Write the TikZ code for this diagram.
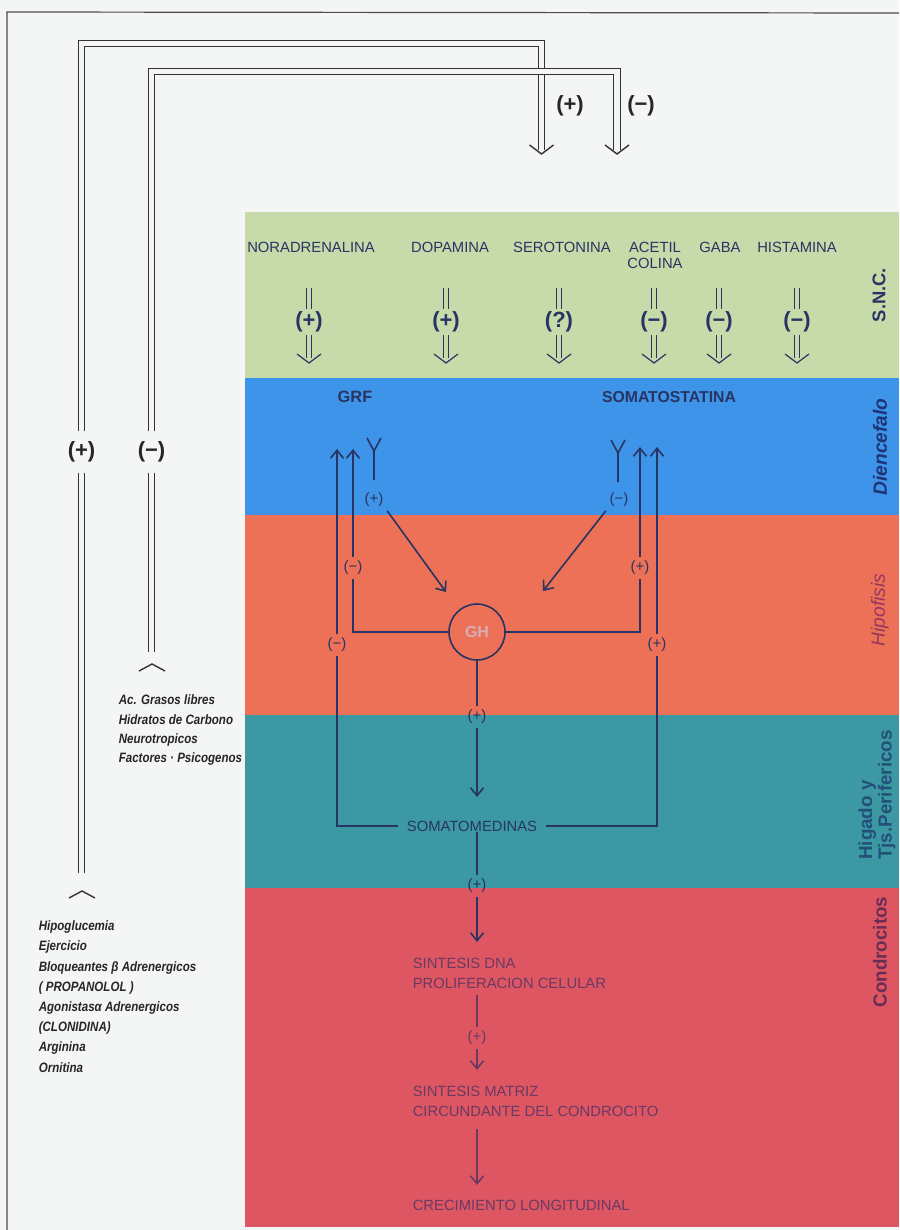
\documentclass[tikz,border=0pt]{standalone}
\usepackage{fontspec}
\setmainfont{Liberation Sans}
\newfontfamily\narrowfont[FakeStretch=0.85]{Liberation Sans}
\usetikzlibrary{arrows.meta}
\definecolor{paper}{RGB}{244,245,245}
\definecolor{sncgreen}{RGB}{199,218,170}
\definecolor{dienblue}{RGB}{62,148,232}
\definecolor{hiporange}{RGB}{236,113,86}
\definecolor{higteal}{RGB}{60,152,162}
\definecolor{condred}{RGB}{222,86,98}
\definecolor{ink}{RGB}{40,52,98}
\definecolor{inkred}{RGB}{105,58,100}
\definecolor{ghtext}{RGB}{218,172,182}
\begin{document}
\begin{tikzpicture}[x=.5pt,y=-.5pt,line width=.8pt,
  dbl/.style={draw=black!80,line width=.6pt,double=paper,double distance=2.6pt},
  sncdbl/.style={draw=ink,line width=.5pt,double=sncgreen,double distance=1.8pt},
  barb/.style={-{Straight Barb[length=4pt,width=6.5pt]}},
  bigsign/.style={font=\bfseries\fontsize{11}{11}\selectfont,inner sep=1pt},
  sign/.style={font=\fontsize{7.5}{7.5}\selectfont,text=ink,inner sep=1.5pt},
  bandtxt/.style={font=\fontsize{7.4}{8}\selectfont,text=ink,inner sep=0pt},
  chondtxt/.style={font=\fontsize{7.4}{10}\selectfont,text=inkred,align=left,anchor=west,inner sep=0pt},
  listtxt/.style={font=\narrowfont\bfseries\itshape\fontsize{6.8}{9.7}\selectfont,text=black!85,align=left,anchor=north west,inner sep=0pt},
  side/.style={rotate=90,inner sep=0pt},
  chevdn/.pic={\draw (-12,-9) -- (0,0) -- (12,-9);},
  chevup/.pic={\draw (-13,7) -- (0,0) -- (13,7);},
  yfork/.pic={\draw (-7,0) -- (0,13) -- (7,0) (0,13) -- (0,42);}]
  \fill[paper] (0,0) rectangle (899,1230);
  \useasboundingbox (0,0) rectangle (899,1230);
  \draw[black!70,line width=.6pt] (7,1230) -- (7,12) -- (899,13);

  % bands
  \fill[sncgreen] (245,212) rectangle (899,378);
  \fill[dienblue] (245,378) rectangle (899,515);
  \fill[hiporange] (245,515) rectangle (899,715);
  \fill[higteal] (245,715) rectangle (899,888);
  \fill[condred] (245,888) rectangle (899,1227);

  % long feedback loops
  \coordinate (tp) at (541.5,150);
  \coordinate (tm) at (617,150);
  \coordinate (fpe) at (81.5,873);
  \coordinate (fme) at (151.5,652);
  \node[bigsign,text=black!85,inner ysep=5pt] (fp) at (81.5,452) {(+)};
  \node[bigsign,text=black!85,inner ysep=5pt] (fm) at (151.5,452) {(−)};
  \draw[dbl] (fp.north) -- (81.5,43.5) -| (tp);
  \draw[dbl] (fp.south) -- (fpe);
  \draw[dbl] (fm.north) -- (151.5,71.5) -| (tm);
  \draw[dbl] (fm.south) -- (fme);
  \pic[black!80,line width=.7pt] at (541.5,154) {chevdn};
  \pic[black!80,line width=.7pt] at (617,154) {chevdn};
  \pic[black!80,line width=.7pt] at (82,891) {chevup};
  \pic[black!80,line width=.7pt] at (152,664) {chevup};
  \node[bigsign,text=black!85] (tpl) at (570,106) {(+)};
  \node[bigsign,text=black!85] (tml) at (641,106) {(−)};

  \node[listtxt] (inner) at (118,694) {Ac. Grasos libres\\Hidratos de Carbono\\Neurotropicos\\Factores · Psicogenos};
  \node[listtxt,font=\narrowfont\bfseries\itshape\fontsize{6.8}{10.1}\selectfont] (outer) at (38,920)
    {Hipoglucemia\\Ejercicio\\Bloqueantes β Adrenergicos\\( PROPANOLOL )\\Agonistasα Adrenergicos\\(CLONIDINA)\\Arginina\\Ornitina};

  % S.N.C.
  \node[bandtxt] (nor) at (311,247) {NORADRENALINA};
  \node[bandtxt] (dop) at (450,247) {DOPAMINA};
  \node[bandtxt] (ser) at (562,247) {SEROTONINA};
  \node[bandtxt,align=center] (ace) at (655,255) {ACETIL\\COLINA};
  \node[bandtxt] (gab) at (720,247) {GABA};
  \node[bandtxt] (his) at (797,247) {HISTAMINA};
  \foreach \xx/\ss/\nn in {309/+/1,446/+/2,559/?/3,654/−/4,719/−/5,797/−/6}{
    \node[bigsign,text=ink] (s\nn) at (\xx,322) {(\ss)};
    \draw[sncdbl] (\xx,288) -- (s\nn.north) (s\nn.south) -- (\xx,358);
    \pic[ink,line width=.6pt] at (\xx,363) {chevdn};
  }

  % Diencefalo / Hipofisis
  \node[font=\bfseries\fontsize{8.2}{8.2}\selectfont,text=ink] (grf) at (355,397) {GRF};
  \node[font=\bfseries\fontsize{7.9}{7.9}\selectfont,text=ink] (som8) at (669,397) {SOMATOSTATINA};
  \coordinate (ga) at (337,449);
  \coordinate (gb) at (353,449);
  \coordinate (sa) at (640,447);
  \coordinate (sb) at (657,447);
  \node[circle,draw=ink,minimum size=28pt,inner sep=0pt,font=\bfseries\fontsize{8}{8}\selectfont,text=ghtext] (gh) at (477,632) {GH};
  \node[sign] (m1) at (353,568) {(−)};
  \node[sign] (m2) at (337,645) {(−)};
  \node[sign] (p1) at (640,568) {(+)};
  \node[sign] (p2) at (657,645) {(+)};
  \node[bandtxt,inner xsep=4pt] (som) at (472,826) {SOMATOMEDINAS};
  \begin{scope}[draw=ink]
    \pic[ink] at (374,438) {yfork};
    \pic[ink] at (618,440) {yfork};
    \node[sign] (gp) at (374,500) {(+)};
    \node[sign] (sm) at (619,500) {(−)};
    \coordinate (ghl) at (446,592);
    \coordinate (ghr) at (543,591);
    \draw[barb] (gp.south east) -- (ghl);
    \draw[barb] (sm.south west) -- (ghr);
    \draw[barb] (m1.north) -- (gb);
    \draw (gh.west) -| (m1.south);
    \draw[barb] (m2.north) -- (ga);
    \draw (m2.south) |- (som.west);
    \draw[barb] (p1.north) -- (sa);
    \draw (gh.east) -| (p1.south);
    \draw[barb] (p2.north) -- (sb);
    \draw (p2.south) |- (som.east);
    \node[sign] (gp2) at (477,717) {(+)};
    \coordinate (a0) at (477,797);
    \draw (gh.south) -- (gp2.north);
    \draw[barb] (gp2.south) -- (a0);
    \node[sign] (gp3) at (477,886) {(+)};
    \coordinate (a1) at (477,942);
    \draw (gh |- som.south) -- (gp3.north);
    \draw[barb] (gp3.south) -- (a1);
  \end{scope}

  % Condrocitos
  \node[chondtxt] (dna) at (412,973) {SINTESIS DNA\\PROLIFERACION CELULAR};
  \node[chondtxt] (mat) at (412,1101) {SINTESIS MATRIZ\\CIRCUNDANTE DEL CONDROCITO};
  \node[chondtxt] (cre) at (412,1205) {CRECIMIENTO LONGITUDINAL};
  \node[sign,text=inkred] (gp4) at (477,1038) {(+)};
  \coordinate (a2) at (477,1070);
  \coordinate (a3) at (477,1185);
  \begin{scope}[draw=inkred]
    \draw ([yshift=-3pt]gh |- dna.south) -- (gp4.north);
    \draw[barb] (gp4.south) -- (a2);
    \draw[barb] ([yshift=-6pt]gh |- mat.south) -- (a3);
  \end{scope}

  % side labels
  \node[side,font=\bfseries\fontsize{9.2}{9.2}\selectfont,text=ink] (snc) at (879,295) {S.N.C.};
  \node[side,font=\bfseries\itshape\fontsize{9.6}{9.6}\selectfont,text={rgb,255:red,30;green,52;blue,120}] (die) at (880,447) {Diencefalo};
  \node[side,font=\itshape\fontsize{9.6}{9.6}\selectfont,text={rgb,255:red,150;green,55;blue,95}] (hip) at (880,610) {Hipofisis};
  \node[side,align=left,font=\bfseries\fontsize{9.4}{8.6}\selectfont,text={rgb,255:red,35;green,80;blue,120}] (hig) at (877,795) {Higado y\\Tjs.Perifericos};
  \node[side,font=\bfseries\fontsize{9.4}{9.4}\selectfont,text={rgb,255:red,105;green,45;blue,85}] (con) at (880,952) {Condrocitos};
\end{tikzpicture}
\end{document}
